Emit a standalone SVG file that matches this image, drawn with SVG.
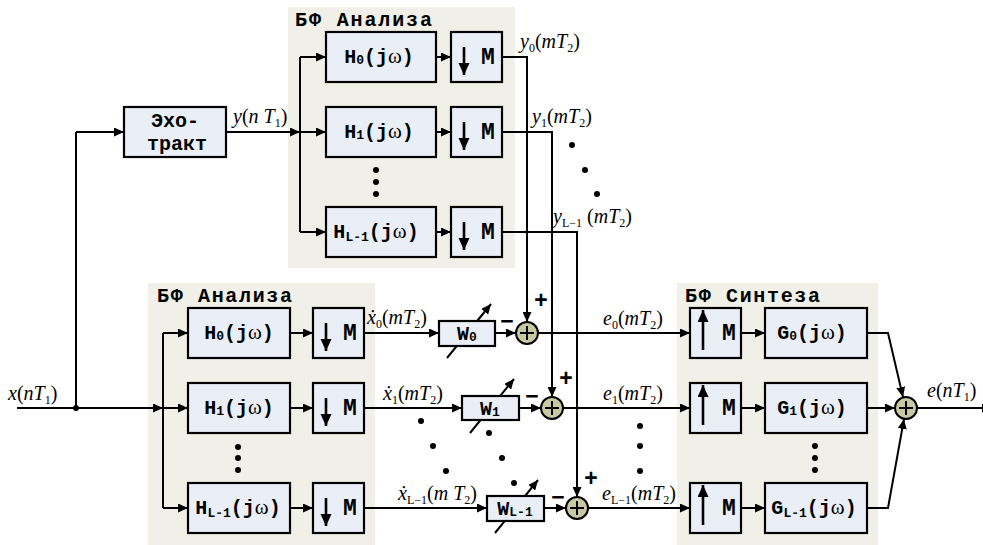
<svg xmlns="http://www.w3.org/2000/svg" width="983" height="545" viewBox="0 0 983 545">
<defs>
<marker id="ah" markerWidth="11" markerHeight="9" refX="10" refY="4.5" orient="auto" markerUnits="userSpaceOnUse"><path d="M0,0L10,4.5L0,9z" fill="#000"/></marker>
<marker id="ah2" markerWidth="12" markerHeight="12" refX="12" refY="5.5" orient="auto" markerUnits="userSpaceOnUse"><path d="M0,0L12,5.5L0,11z" fill="#000"/></marker>
<style>
.bg{fill:#f0f0e9}
.bx{fill:#eaeff7;stroke:#000;stroke-width:2.2}
.ln{fill:none;stroke:#000;stroke-width:2}
.ar{fill:none;stroke:#000;stroke-width:2;marker-end:url(#ah)}
.ra{fill:none;stroke:#000;stroke-width:2.6;marker-end:url(#ah2)}
.sm{fill:#c6c9a2;stroke:#000;stroke-width:2}
.dt{fill:#000}
.tt{font-family:"Liberation Mono","DejaVu Sans Mono",monospace;font-weight:bold;font-size:20px}
.bt{font-family:"Liberation Mono","DejaVu Sans Mono",monospace;font-weight:bold;font-size:20px}
.mt{font-family:"Liberation Mono","DejaVu Sans Mono",monospace;font-weight:bold;font-size:23px}
.bs{font-size:13px}
.om{font-family:"Liberation Serif","DejaVu Serif",serif;font-weight:normal;font-size:21px}
.lb{font-family:"Liberation Serif","DejaVu Serif",serif;font-size:20px}
.i{font-style:italic}
.s{font-size:12px;font-style:normal}
.sg{font-family:"Liberation Sans","DejaVu Sans",sans-serif;font-weight:bold;font-size:23px}
</style>
</defs>
<rect width="983" height="545" fill="#fff"/>

<!-- panels -->
<g id="panel-analysis-top">
<rect class="bg" x="288" y="7" width="227" height="261"/>
<text class="tt" x="295" y="26" textLength="137" lengthAdjust="spacing">БФ Анализа</text>
</g>
<g id="panel-analysis-bottom">
<rect class="bg" x="148" y="283" width="227" height="262"/>
<text class="tt" x="157" y="302" textLength="135" lengthAdjust="spacing">БФ Анализа</text>
</g>
<g id="panel-synthesis">
<rect class="bg" x="677" y="283" width="201" height="262"/>
<text class="tt" x="685" y="302" textLength="135" lengthAdjust="spacing">БФ Синтеза</text>
</g>

<!-- connectors -->
<g id="connectors">
<path class="ar" d="M17,408H163"/>
<path class="ln" d="M76,408V132"/>
<path class="ar" d="M76,132H124"/>
<circle class="dt" cx="76" cy="408" r="3"/>
<path class="ar" d="M226,132H300"/>
<path class="ln" d="M300,57V232"/>
<path class="ar" d="M300,57H326"/>
<path class="ar" d="M300,132H326"/>
<path class="ar" d="M300,232H326"/>
<path class="ar" d="M436,57H451"/>
<path class="ar" d="M436,132H451"/>
<path class="ar" d="M436,232H451"/>
<path class="ar" d="M502,57H527V322"/>
<path class="ar" d="M502,132H552V397"/>
<path class="ar" d="M502,232H577V497"/>

<path class="ln" d="M163,333V508"/>
<path class="ar" d="M163,333H188"/>
<path class="ar" d="M163,408H188"/>
<path class="ar" d="M163,508H188"/>
<path class="ar" d="M290,333H313"/>
<path class="ar" d="M290,408H313"/>
<path class="ar" d="M290,508H313"/>
<path class="ar" d="M364,333H439"/>
<path class="ar" d="M364,408H462"/>
<path class="ar" d="M364,508H487"/>
<path class="ar" d="M495,333H516"/>
<path class="ar" d="M519,408H541"/>
<path class="ar" d="M544,508H566"/>
<path class="ar" d="M538,333H690"/>
<path class="ar" d="M563,408H690"/>
<path class="ar" d="M588,508H690"/>
<path class="ar" d="M741,333H765"/>
<path class="ar" d="M741,408H765"/>
<path class="ar" d="M741,508H765"/>
<path class="ar" d="M867,333H888L903,397"/>
<path class="ar" d="M867,408H895"/>
<path class="ar" d="M867,508H888L904,419"/>
<path class="ar" d="M917,408H992"/>
</g>

<!-- echo path -->
<g id="echo">
<rect class="bx" x="124" y="107" width="102" height="50"/>
<text class="tt" x="175" y="127" text-anchor="middle" font-size="21">Эхо-</text>
<text class="tt" x="177" y="150" text-anchor="middle" font-size="21">тракт</text>
</g>

<!-- top analysis bank -->
<g id="H0-top"><rect class="bx" x="326" y="32" width="110" height="50"/><text class="bt" x="379" y="63" text-anchor="middle">H<tspan class="bs" dy="1">0</tspan><tspan dy="-1">(j</tspan><tspan class="om">ω</tspan>)</text></g>
<g id="H1-top"><rect class="bx" x="326" y="107" width="110" height="50"/><text class="bt" x="379" y="138" text-anchor="middle">H<tspan class="bs" dy="1">1</tspan><tspan dy="-1">(j</tspan><tspan class="om">ω</tspan>)</text></g>
<g id="HL-top"><rect class="bx" x="326" y="207" width="110" height="50"/><text class="bt" x="376" y="238" text-anchor="middle">H<tspan class="bs" dy="3">L-1</tspan><tspan dy="-3">(j</tspan><tspan class="om">ω</tspan>)</text></g>
<g id="D0-top"><rect class="bx" x="451" y="32" width="51" height="50"/><path class="ra" d="M464,47V75"/><text class="mt" x="488" y="64" text-anchor="middle">M</text></g>
<g id="D1-top"><rect class="bx" x="451" y="107" width="51" height="50"/><path class="ra" d="M464,122V150"/><text class="mt" x="488" y="139" text-anchor="middle">M</text></g>
<g id="DL-top"><rect class="bx" x="451" y="207" width="51" height="50"/><path class="ra" d="M464,222V250"/><text class="mt" x="488" y="239" text-anchor="middle">M</text></g>
<g id="dots-top"><circle class="dt" cx="376" cy="170" r="3"/><circle class="dt" cx="376" cy="182" r="3"/><circle class="dt" cx="376" cy="194" r="3"/></g>

<!-- bottom analysis bank -->
<g id="H0-bot"><rect class="bx" x="188" y="308" width="102" height="50"/><text class="bt" x="239" y="339" text-anchor="middle">H<tspan class="bs" dy="1">0</tspan><tspan dy="-1">(j</tspan><tspan class="om">ω</tspan>)</text></g>
<g id="H1-bot"><rect class="bx" x="188" y="383" width="102" height="50"/><text class="bt" x="239" y="414" text-anchor="middle">H<tspan class="bs" dy="1">1</tspan><tspan dy="-1">(j</tspan><tspan class="om">ω</tspan>)</text></g>
<g id="HL-bot"><rect class="bx" x="188" y="483" width="102" height="50"/><text class="bt" x="238" y="514" text-anchor="middle">H<tspan class="bs" dy="3">L-1</tspan><tspan dy="-3">(j</tspan><tspan class="om">ω</tspan>)</text></g>
<g id="D0-bot"><rect class="bx" x="313" y="308" width="51" height="50"/><path class="ra" d="M326,323V351"/><text class="mt" x="350" y="340" text-anchor="middle">M</text></g>
<g id="D1-bot"><rect class="bx" x="313" y="383" width="51" height="50"/><path class="ra" d="M326,398V426"/><text class="mt" x="350" y="415" text-anchor="middle">M</text></g>
<g id="DL-bot"><rect class="bx" x="313" y="483" width="51" height="50"/><path class="ra" d="M326,498V526"/><text class="mt" x="350" y="515" text-anchor="middle">M</text></g>
<g id="dots-bot"><circle class="dt" cx="238" cy="447" r="3"/><circle class="dt" cx="238" cy="458" r="3"/><circle class="dt" cx="238" cy="470" r="3"/></g>

<!-- adaptive filters -->
<g id="W0"><path class="ar" d="M447,358L491,304"/><rect class="bx" x="439" y="321" width="56" height="25"/><text class="bt" x="467" y="340" text-anchor="middle">W<tspan class="bs" dy="1">0</tspan></text></g>
<g id="W1"><path class="ar" d="M470,433L514,379"/><rect class="bx" x="462" y="396" width="57" height="24"/><text class="bt" x="490" y="415" text-anchor="middle">W<tspan class="bs" dy="1">1</tspan></text></g>
<g id="WL"><path class="ar" d="M495,533L538,480"/><rect class="bx" x="487" y="496" width="57" height="25"/><text class="bt" x="515" y="515" text-anchor="middle">W<tspan class="bs" dy="1">L-1</tspan></text></g>

<!-- summers -->
<g id="S0"><circle class="sm" cx="527" cy="333" r="11"/><path class="ln" d="M520,333H534M527,326V340"/><text class="sg" x="507" y="329" text-anchor="middle">−</text><text class="sg" x="541" y="308" text-anchor="middle">+</text></g>
<g id="S1"><circle class="sm" cx="552" cy="408" r="11"/><path class="ln" d="M545,408H559M552,401V415"/><text class="sg" x="532" y="404" text-anchor="middle">−</text><text class="sg" x="566" y="386" text-anchor="middle">+</text></g>
<g id="SL"><circle class="sm" cx="577" cy="508" r="11"/><path class="ln" d="M570,508H584M577,501V515"/><text class="sg" x="558" y="505" text-anchor="middle">−</text><text class="sg" x="591" y="486" text-anchor="middle">+</text></g>

<!-- synthesis bank -->
<g id="U0"><rect class="bx" x="690" y="308" width="51" height="50"/><path class="ra" d="M703,350V310"/><text class="mt" x="729" y="340" text-anchor="middle">M</text></g>
<g id="U1"><rect class="bx" x="690" y="383" width="51" height="50"/><path class="ra" d="M703,425V385"/><text class="mt" x="729" y="415" text-anchor="middle">M</text></g>
<g id="UL"><rect class="bx" x="690" y="483" width="51" height="50"/><path class="ra" d="M703,525V485"/><text class="mt" x="729" y="515" text-anchor="middle">M</text></g>
<g id="G0"><rect class="bx" x="765" y="308" width="102" height="50"/><text class="bt" x="812" y="339" text-anchor="middle">G<tspan class="bs" dy="1">0</tspan><tspan dy="-1">(j</tspan><tspan class="om">ω</tspan>)</text></g>
<g id="G1"><rect class="bx" x="765" y="383" width="102" height="50"/><text class="bt" x="812" y="414" text-anchor="middle">G<tspan class="bs" dy="1">1</tspan><tspan dy="-1">(j</tspan><tspan class="om">ω</tspan>)</text></g>
<g id="GL"><rect class="bx" x="765" y="483" width="102" height="50"/><text class="bt" x="814" y="514" text-anchor="middle">G<tspan class="bs" dy="3">L-1</tspan><tspan dy="-3">(j</tspan><tspan class="om">ω</tspan>)</text></g>
<g id="dots-syn"><circle class="dt" cx="815" cy="446" r="3"/><circle class="dt" cx="815" cy="458" r="3"/><circle class="dt" cx="815" cy="470" r="3"/></g>
<g id="Sout"><circle class="sm" cx="906" cy="408" r="11"/><path class="ln" d="M899,408H913M906,401V415"/></g>

<!-- other dots -->
<g id="dots-misc">
<circle class="dt" cx="572" cy="145" r="3"/><circle class="dt" cx="585" cy="170" r="3"/><circle class="dt" cx="597" cy="194" r="3"/>
<circle class="dt" cx="421" cy="421" r="3"/><circle class="dt" cx="433" cy="446" r="3"/><circle class="dt" cx="446" cy="471" r="3"/>
<circle class="dt" cx="489" cy="433" r="3"/><circle class="dt" cx="502" cy="458" r="3"/><circle class="dt" cx="514" cy="483" r="3"/>
<circle class="dt" cx="640" cy="426" r="3"/><circle class="dt" cx="640" cy="446" r="3"/><circle class="dt" cx="640" cy="471" r="3"/>
</g>

<!-- signal labels -->
<g id="labels">
<text class="lb" x="8" y="400"><tspan class="i">x</tspan>(<tspan class="i">nT</tspan><tspan class="s" dy="4">1</tspan><tspan dy="-4">)</tspan></text>
<text class="lb" x="233" y="123"><tspan class="i">y</tspan>(<tspan class="i">n T</tspan><tspan class="s" dy="4">1</tspan><tspan dy="-4">)</tspan></text>
<text class="lb" x="520" y="48"><tspan class="i">y</tspan><tspan class="s" dy="4">0</tspan><tspan dy="-4">(</tspan><tspan class="i">mT</tspan><tspan class="s" dy="4">2</tspan><tspan dy="-4">)</tspan></text>
<text class="lb" x="532" y="123"><tspan class="i">y</tspan><tspan class="s" dy="4">1</tspan><tspan dy="-4">(</tspan><tspan class="i">mT</tspan><tspan class="s" dy="4">2</tspan><tspan dy="-4">)</tspan></text>
<text class="lb" x="553" y="223"><tspan class="i">y</tspan><tspan class="s i" dy="4">L</tspan><tspan class="s">−1</tspan><tspan dy="-4"> (</tspan><tspan class="i">mT</tspan><tspan class="s" dy="4">2</tspan><tspan dy="-4">)</tspan></text>
<text class="lb" x="367" y="324"><tspan class="i">ẋ</tspan><tspan class="s" dy="4">0</tspan><tspan dy="-4">(</tspan><tspan class="i">mT</tspan><tspan class="s" dy="4">2</tspan><tspan dy="-4">)</tspan></text>
<text class="lb" x="383" y="400"><tspan class="i">ẋ</tspan><tspan class="s" dy="4">1</tspan><tspan dy="-4">(</tspan><tspan class="i">mT</tspan><tspan class="s" dy="4">2</tspan><tspan dy="-4">)</tspan></text>
<text class="lb" x="398" y="500"><tspan class="i">ẋ</tspan><tspan class="s i" dy="4">L</tspan><tspan class="s">−1</tspan><tspan dy="-4">(</tspan><tspan class="i">m T</tspan><tspan class="s" dy="4">2</tspan><tspan dy="-4">)</tspan></text>
<text class="lb" x="603" y="325"><tspan class="i">e</tspan><tspan class="s" dy="4">0</tspan><tspan dy="-4">(</tspan><tspan class="i">mT</tspan><tspan class="s" dy="4">2</tspan><tspan dy="-4">)</tspan></text>
<text class="lb" x="603" y="400"><tspan class="i">e</tspan><tspan class="s" dy="4">1</tspan><tspan dy="-4">(</tspan><tspan class="i">mT</tspan><tspan class="s" dy="4">2</tspan><tspan dy="-4">)</tspan></text>
<text class="lb" x="602" y="500"><tspan class="i">e</tspan><tspan class="s i" dy="4">L</tspan><tspan class="s">−1</tspan><tspan dy="-4">(</tspan><tspan class="i">mT</tspan><tspan class="s" dy="4">2</tspan><tspan dy="-4">)</tspan></text>
<text class="lb" x="927" y="397"><tspan class="i">e</tspan>(<tspan class="i">nT</tspan><tspan class="s" dy="4">1</tspan><tspan dy="-4">)</tspan></text>
</g>
</svg>
